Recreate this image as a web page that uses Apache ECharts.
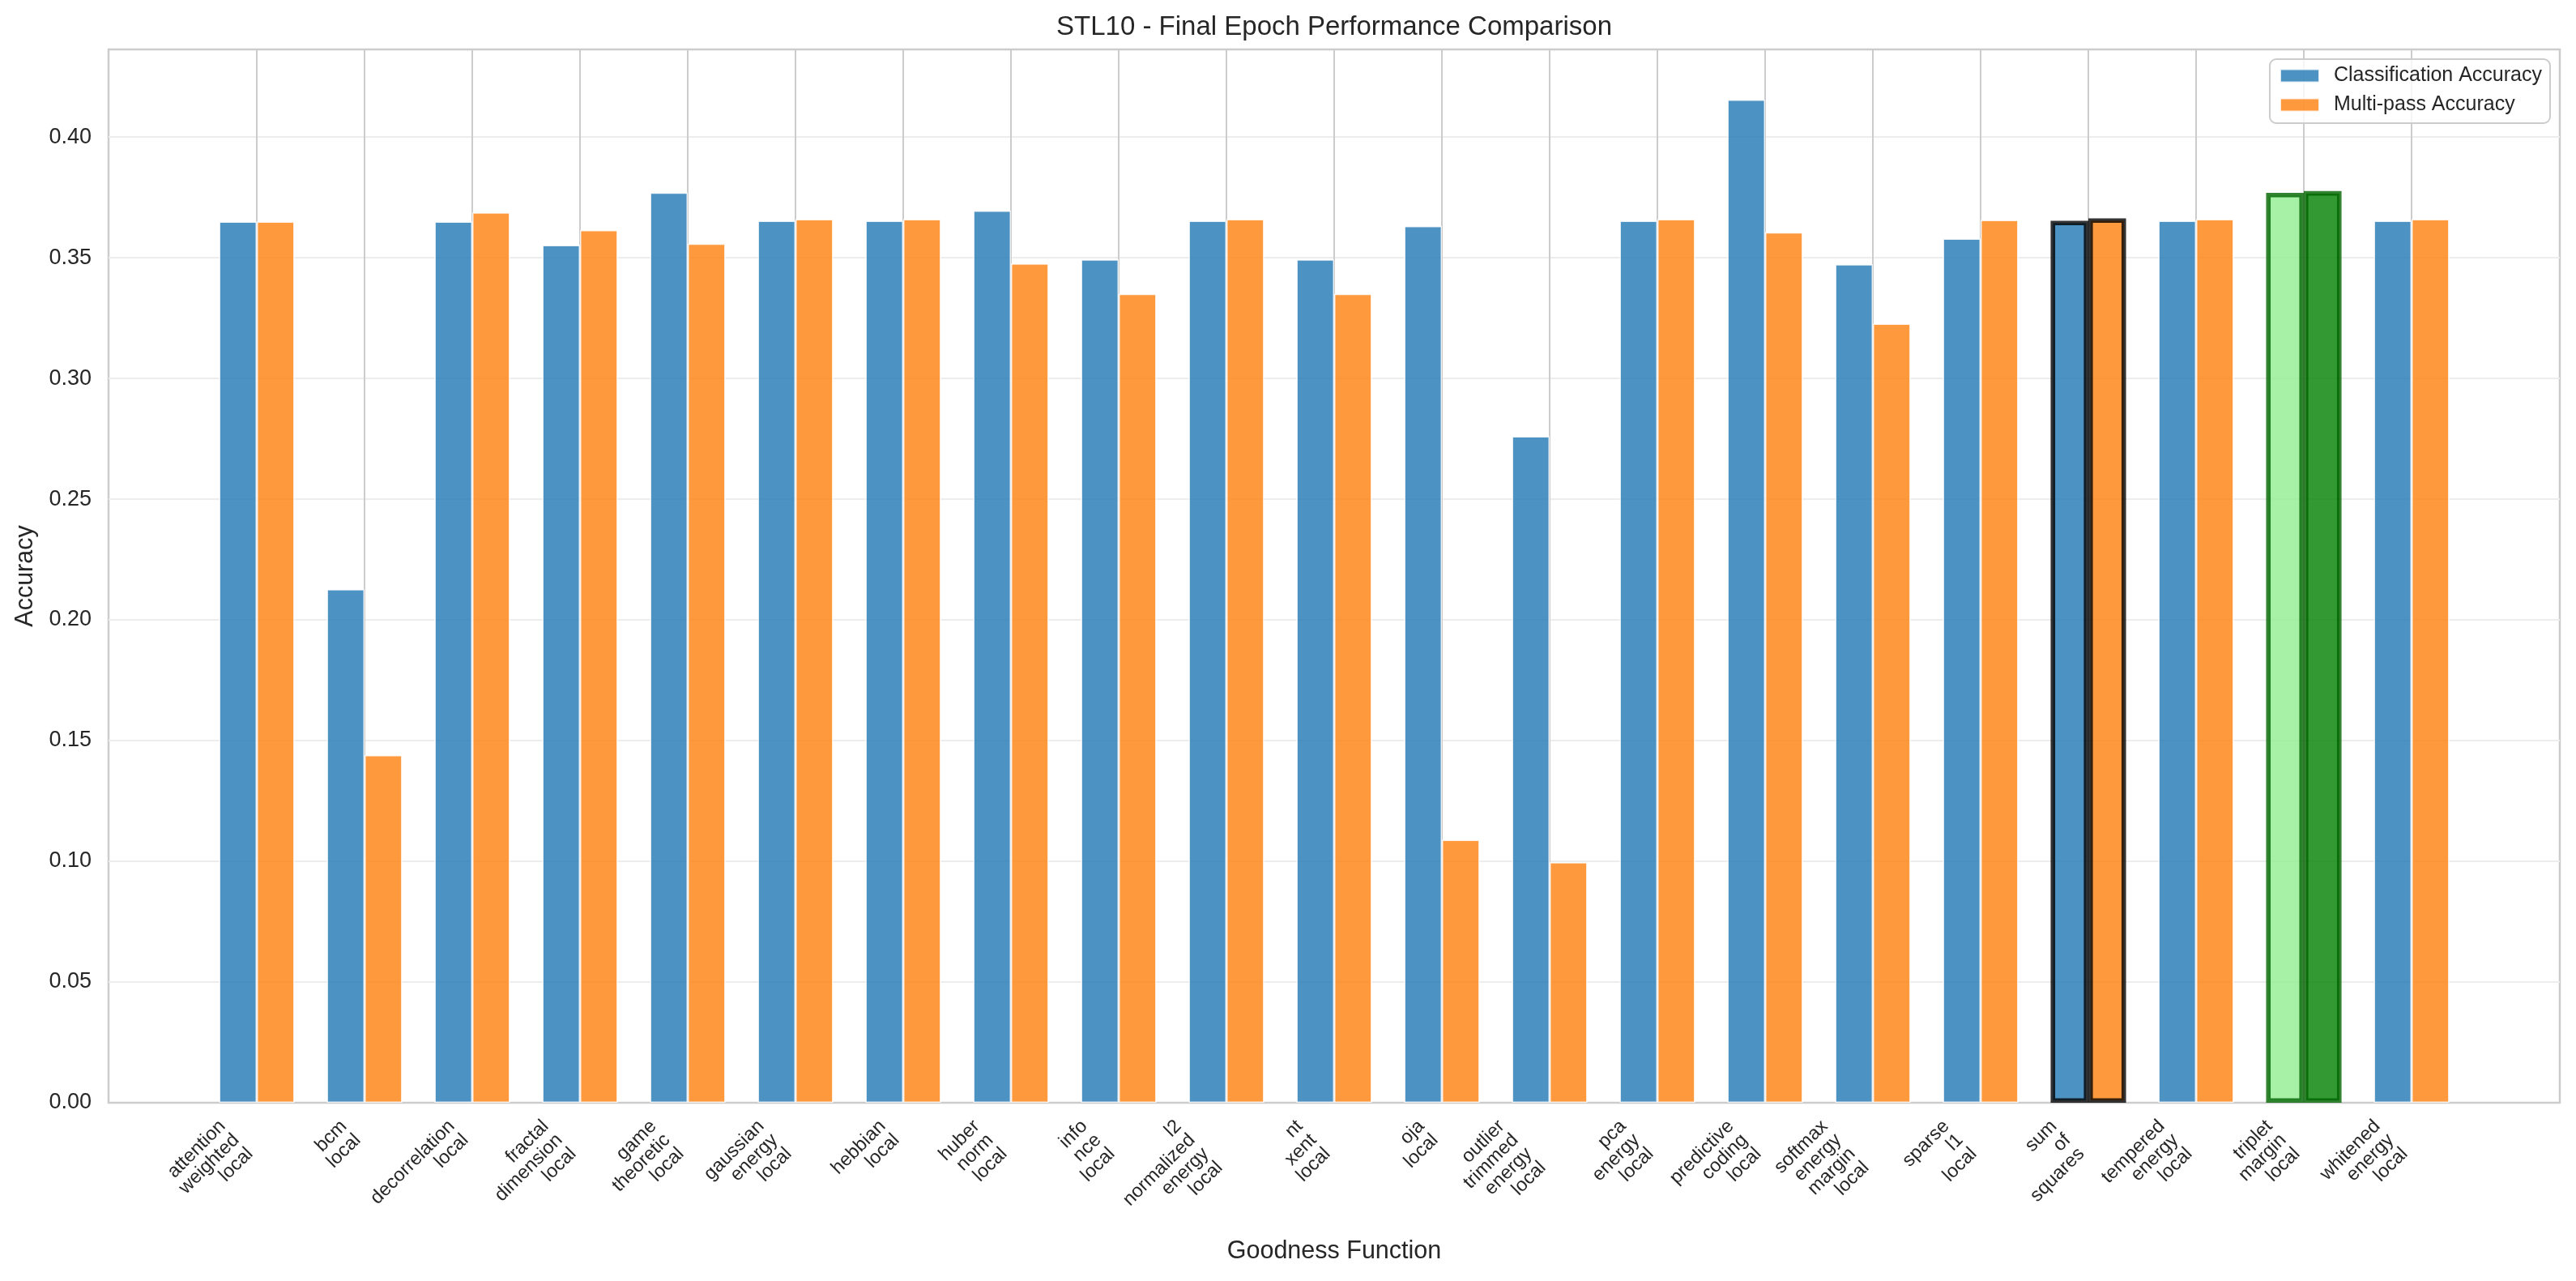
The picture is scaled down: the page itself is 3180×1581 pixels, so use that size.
<!DOCTYPE html>
<html>
<head>
<meta charset="utf-8">
<script src="https://cdn.jsdelivr.net/npm/echarts@6/dist/echarts.min.js"></script>
<style>
html,body{margin:0;padding:0;background:#fff;}
#chart{width:3180px;height:1581px;}
</style>
</head>
<body>
<div id="chart"></div>
<script>
const categories = [
  'attention\nweighted\nlocal', 'bcm\nlocal', 'decorrelation\nlocal', 'fractal\ndimension\nlocal',
  'game\ntheoretic\nlocal', 'gaussian\nenergy\nlocal', 'hebbian\nlocal', 'huber\nnorm\nlocal',
  'info\nnce\nlocal', 'l2\nnormalized\nenergy\nlocal', 'nt\nxent\nlocal', 'oja\nlocal',
  'outlier\ntrimmed\nenergy\nlocal', 'pca\nenergy\nlocal', 'predictive\ncoding\nlocal',
  'softmax\nenergy\nmargin\nlocal', 'sparse\nl1\nlocal', 'sum\nof\nsquares',
  'tempered\nenergy\nlocal', 'triplet\nmargin\nlocal', 'whitened\nenergy\nlocal'
];
const classificationAccuracy = [
  0.3650, 0.2127, 0.3650, 0.3552, 0.3770, 0.3653, 0.3653, 0.3695, 0.3493, 0.3653, 0.3493,
  0.3631, 0.2760, 0.3653, 0.4155, 0.3473, 0.3579, 0.3653, 0.3653, 0.3769, 0.3653
];
const multipassAccuracy = [
  0.3650, 0.1440, 0.3687, 0.3614, 0.3558, 0.3660, 0.3660, 0.3476, 0.3350, 0.3660, 0.3350,
  0.1089, 0.0996, 0.3660, 0.3605, 0.3227, 0.3656, 0.3663, 0.3660, 0.3776, 0.3660
];
const seriesNames = ['Classification Accuracy', 'Multi-pass Accuracy'];
const yTickStep = 0.05;
const baselineName = 'sum\nof\nsquares';
const bestName = 'triplet\nmargin\nlocal';

const FONT = 'Liberation Sans, Arial, sans-serif';
const TXT = '#262626';
const yMax = Math.max(...classificationAccuracy, ...multipassAccuracy) * 1.05;

const LINE_H = 24;
const xData = categories.map(c => {
  const n = c.split('\n').length;
  return { value: c, textStyle: { padding: [0, n * LINE_H * 0.5, 0, 0] } };
});

function styledData(values, which) {
  return values.map((v, i) => {
    const name = categories[i];
    if (name === baselineName) {
      return { value: v, itemStyle: { borderColor: 'rgba(0,0,0,0.8)', borderWidth: 5.6 } };
    }
    if (name === bestName) {
      return {
        value: v,
        itemStyle: {
          color: which === 0 ? 'rgba(144,238,144,0.8)' : 'rgba(0,128,0,0.8)',
          borderColor: 'rgba(0,100,0,0.8)',
          borderWidth: 5.6
        }
      };
    }
    return v;
  });
}

const L0 = 134, R0 = 3160, T0 = 61, B0 = 1361;
const W = 3180, H = 1581;
const L1 = 317, R1 = 2977;

const chart = echarts.init(document.getElementById('chart'), null, { renderer: 'canvas', width: W, height: H });
chart.setOption({
  backgroundColor: '#ffffff',
  animation: false,
  textStyle: { fontFamily: FONT, color: TXT },
  title: {
    text: 'STL10 - Final Epoch Performance Comparison',
    left: (L0 + R0) / 2,
    textAlign: 'center',
    top: 17,
    padding: 0,
    textStyle: { fontFamily: FONT, fontSize: 33, fontWeight: 'normal', color: TXT }
  },
  legend: {
    orient: 'vertical',
    right: W - 3148,
    top: 73,
    padding: [8, 10, 10, 12],
    itemWidth: 48,
    itemHeight: 16,
    itemGap: 11,
    backgroundColor: 'rgba(255,255,255,0.8)',
    borderColor: '#cccccc',
    borderWidth: 2,
    borderRadius: 8,
    icon: 'rect',
    textStyle: { fontFamily: FONT, fontSize: 25, lineHeight: 25, color: TXT, padding: [0, 0, 0, 13] },
    data: seriesNames
  },
  grid: [
    { left: L0, right: W - R0, top: T0, bottom: H - B0, show: true, borderColor: '#cccccc', borderWidth: 2.5, backgroundColor: 'transparent', containLabel: false, outerBoundsMode: 'none' },
    { left: L1, right: W - R1, top: T0, bottom: H - B0, show: false, containLabel: false, outerBoundsMode: 'none' }
  ],
  xAxis: [
    { gridIndex: 0, type: 'value', show: false, min: 0, max: 1 },
    {
      gridIndex: 1,
      type: 'category',
      data: xData,
      boundaryGap: false,
      axisLine: { show: false },
      axisTick: { show: false },
      splitLine: { show: true, lineStyle: { color: '#cccccc', width: 2 } },
      axisLabel: {
        interval: 0,
        rotate: 45,
        margin: 17,
        fontFamily: FONT,
        fontSize: 23.5,
        lineHeight: LINE_H,
        color: TXT,
        hideOverlap: false
      },
      name: 'Goodness Function',
      nameLocation: 'middle',
      nameGap: 168,
      nameMoveOverlap: false,
      nameTextStyle: { fontFamily: FONT, fontSize: 30.5, color: TXT }
    }
  ],
  yAxis: [
    {
      gridIndex: 0,
      type: 'value',
      min: 0,
      max: yMax,
      interval: yTickStep,
      axisLine: { show: false },
      axisTick: { show: false },
      splitLine: { show: true, showMaxLine: false, showMinLine: false, lineStyle: { color: '#ededed', width: 2 } },
      axisLabel: {
        showMaxLabel: false,
        margin: 21,
        fontFamily: FONT,
        fontSize: 27,
        color: TXT,
        formatter: v => v.toFixed(2)
      },
      name: 'Accuracy',
      nameLocation: 'middle',
      nameRotate: 90,
      nameGap: 87,
      nameMoveOverlap: false,
      nameTextStyle: { fontFamily: FONT, fontSize: 30.5, color: TXT }
    },
    { gridIndex: 1, type: 'value', min: 0, max: yMax, show: false }
  ],
  series: [
    {
      name: seriesNames[0],
      type: 'bar',
      xAxisIndex: 1,
      yAxisIndex: 1,
      clip: false,
      barWidth: '35%',
      barGap: '0%',
      itemStyle: { color: 'rgba(31,119,180,0.8)', borderColor: 'rgba(255,255,255,0.8)', borderWidth: 1.5 },
      emphasis: { disabled: true },
      data: styledData(classificationAccuracy, 0)
    },
    {
      name: seriesNames[1],
      type: 'bar',
      xAxisIndex: 1,
      yAxisIndex: 1,
      clip: false,
      barWidth: '35%',
      barGap: '0%',
      itemStyle: { color: 'rgba(255,127,14,0.8)', borderColor: 'rgba(255,255,255,0.8)', borderWidth: 1.5 },
      emphasis: { disabled: true },
      data: styledData(multipassAccuracy, 1)
    }
  ]
});
</script>
</body>
</html>
